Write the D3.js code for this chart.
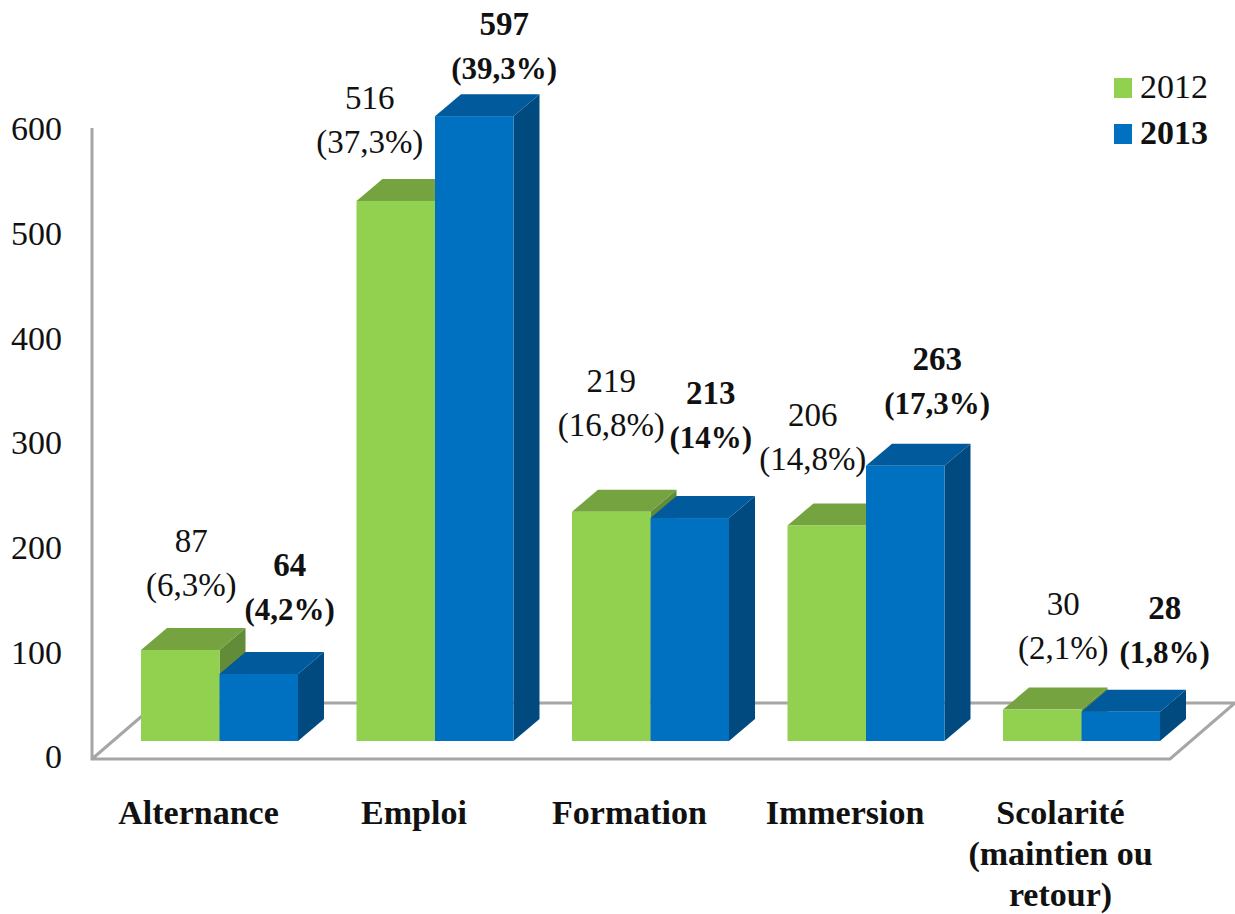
<!DOCTYPE html>
<html>
<head>
<meta charset="utf-8">
<script src="https://cdn.jsdelivr.net/npm/d3@7"></script>
<style>
    html, body { margin: 0; padding: 0; background: #fff; }
    text { font-family: "Liberation Serif", serif; fill: #111; }
</style>
</head>
<body>
<div id="chart"></div>
<script>
const categories = ["Alternance", "Emploi", "Formation", "Immersion", "Scolarité"];
const categoryLines = [["Alternance"], ["Emploi"], ["Formation"], ["Immersion"], ["Scolarité", "(maintien ou", "retour)"]];
const seriesNames = ["2012", "2013"];
const values2012 = [87, 516, 219, 206, 30];
const values2013 = [64, 597, 213, 263, 28];
const percents2012 = ["(6,3%)", "(37,3%)", "(16,8%)", "(14,8%)", "(2,1%)"];
const percents2013 = ["(4,2%)", "(39,3%)", "(14%)", "(17,3%)", "(1,8%)"];
const yTicks = [0, 100, 200, 300, 400, 500, 600];

// hand placed data labels, offset from the top of each bar
const nudge2012 = [[-2, -43], [-39, -37], [-13, -65], [-27, -44], [8, -40]];
const nudge2013 = [[18, -43], [17, -26], [8, -59], [19, -41], [31, -38]];

const width = 1235;
const height = 914;
const depthX = 26;
const depthY = 22;
const baseY = 741;
const lineHeight = 44;

const colors = [
    { front: "#92d050", top: "#74a33f", side: "#628c38" },
    { front: "#0070c0", top: "#005a9b", side: "#004a80" }
];

const svg = d3.select("#chart").append("svg")
    .attr("width", width)
    .attr("height", height)
    .style("display", "block");

const x0 = d3.scaleBand()
    .domain(categories)
    .range([111.75, 1189.25])
    .paddingInner(0.2715)
    .paddingOuter(0.13575);

const x1 = d3.scaleBand()
    .domain(seriesNames)
    .range([0, x0.bandwidth()]);

// front face of the bars sits in front of the wall axis
const yFront = d3.scaleLinear().domain([0, 600]).range([baseY, baseY - 628]);
const yAxis = d3.scaleLinear().domain([0, 600]).range([757, 129]);

// Floor and wall
svg.append("path")
    .attr("d", d3.line()([[92, 128], [92, 759], [1170, 759], [1235, 703], [157, 703], [92, 759]]))
    .attr("fill", "#fff")
    .attr("stroke", "#a6a6a6")
    .attr("stroke-width", 3);

// Y axis, labels only
svg.append("g")
    .attr("transform", "translate(62,0)")
    .call(d3.axisLeft(yAxis).tickValues(yTicks).tickSize(0).tickPadding(0).tickFormat(d3.format("d")))
    .call(g => g.select(".domain").remove())
    .selectAll("text")
    .attr("font-size", 34)
    .style("font-family", "'Liberation Serif', serif");

// Bars
const series = [
    { name: "2012", values: values2012, percents: percents2012, nudge: nudge2012, color: colors[0], weight: "normal", percentSize: 33 },
    { name: "2013", values: values2013, percents: percents2013, nudge: nudge2013, color: colors[1], weight: "bold", percentSize: 31 }
];

series.forEach(function(s) {
    const g = svg.append("g").attr("class", "series");
    s.values.forEach(function(v, i) {
        const left = x0(categories[i]) + x1(s.name);
        const right = left + x1.bandwidth();
        const top = yFront(v);
        const bar = g.append("g");
        bar.append("path")
            .attr("fill", s.color.side)
            .attr("d", d3.line()([[right, top], [right + depthX, top - depthY], [right + depthX, baseY - depthY], [right, baseY]]) + "Z");
        bar.append("path")
            .attr("fill", s.color.top)
            .attr("d", d3.line()([[left, top], [left + depthX, top - depthY], [right + depthX, top - depthY], [right, top]]) + "Z");
        bar.append("rect")
            .attr("x", left)
            .attr("y", top)
            .attr("width", right - left)
            .attr("height", baseY - top)
            .attr("fill", s.color.front);
    });
});

// Data labels go on top of all bars
series.forEach(function(s) {
    s.values.forEach(function(v, i) {
        const cx = x0(categories[i]) + x1(s.name) + x1.bandwidth() / 2 + depthX / 2 + s.nudge[i][0];
        const cy = yFront(v) - depthY + s.nudge[i][1];
        const label = svg.append("text")
            .attr("text-anchor", "middle")
            .attr("font-size", 33)
            .attr("font-weight", s.weight);
        label.append("tspan").attr("x", cx).attr("y", cy - lineHeight + 11).text(v);
        label.append("tspan").attr("x", cx).attr("y", cy + 11).attr("font-size", s.percentSize).text(s.percents[i]);
    });
});

// Category labels
categoryLines.forEach(function(lines, i) {
    const cx = x0(categories[i]) + x0.bandwidth() / 2 - 21;
    const label = svg.append("text")
        .attr("text-anchor", "middle")
        .attr("font-size", 34)
        .attr("font-weight", "bold");
    lines.forEach(function(line, j) {
        label.append("tspan").attr("x", cx).attr("y", 824 + j * 41).text(line);
    });
});

// Legend
const legend = svg.selectAll(".legend")
    .data(series)
    .enter().append("g")
    .attr("class", "legend")
    .attr("transform", (d, i) => "translate(1114," + (78 + i * 46) + ")");

legend.append("rect")
    .attr("width", 18)
    .attr("height", 20)
    .attr("fill", d => d.color.front);

legend.append("text")
    .attr("x", 26)
    .attr("y", 20)
    .attr("font-size", 34)
    .attr("font-weight", d => d.weight)
    .text(d => d.name);
</script>
</body>
</html>
